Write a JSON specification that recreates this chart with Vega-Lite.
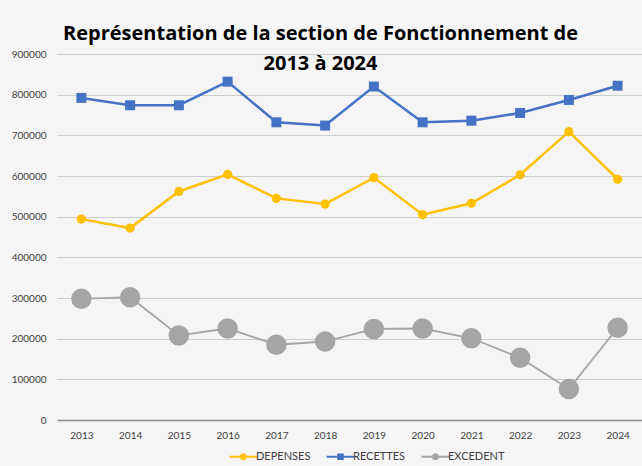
{
  "$schema": "https://vega.github.io/schema/vega-lite/v6.json",
  "width": 585,
  "height": 366,
  "autosize": {"type": "none"},
  "padding": {"left": 57, "top": 54, "right": 0, "bottom": 46},
  "background": "#f5f5f5",
  "config": {"font": "Lato", "view": {"stroke": null}},
  "title": {
    "text": ["Représentation de la section de Fonctionnement de", "2013 à 2024"],
    "font": "Open Sans",
    "fontSize": 20,
    "fontWeight": "bold",
    "color": "#000000",
    "anchor": "middle",
    "offset": -25,
    "dx": -29,
    "lineHeight": 30
  },
  "data": {
    "values": [
      {"year": "2013", "series": "DEPENSES", "value": 494000},
      {"year": "2014", "series": "DEPENSES", "value": 472000},
      {"year": "2015", "series": "DEPENSES", "value": 562000},
      {"year": "2016", "series": "DEPENSES", "value": 604000},
      {"year": "2017", "series": "DEPENSES", "value": 545000},
      {"year": "2018", "series": "DEPENSES", "value": 531000},
      {"year": "2019", "series": "DEPENSES", "value": 596000},
      {"year": "2020", "series": "DEPENSES", "value": 505000},
      {"year": "2021", "series": "DEPENSES", "value": 533000},
      {"year": "2022", "series": "DEPENSES", "value": 603000},
      {"year": "2023", "series": "DEPENSES", "value": 709000},
      {"year": "2024", "series": "DEPENSES", "value": 592000},
      {"year": "2013", "series": "RECETTES", "value": 792000},
      {"year": "2014", "series": "RECETTES", "value": 774000},
      {"year": "2015", "series": "RECETTES", "value": 774000},
      {"year": "2016", "series": "RECETTES", "value": 832000},
      {"year": "2017", "series": "RECETTES", "value": 732000},
      {"year": "2018", "series": "RECETTES", "value": 724000},
      {"year": "2019", "series": "RECETTES", "value": 820000},
      {"year": "2020", "series": "RECETTES", "value": 732000},
      {"year": "2021", "series": "RECETTES", "value": 736000},
      {"year": "2022", "series": "RECETTES", "value": 755000},
      {"year": "2023", "series": "RECETTES", "value": 787000},
      {"year": "2024", "series": "RECETTES", "value": 822000},
      {"year": "2013", "series": "EXCEDENT", "value": 298000},
      {"year": "2014", "series": "EXCEDENT", "value": 302000},
      {"year": "2015", "series": "EXCEDENT", "value": 208000},
      {"year": "2016", "series": "EXCEDENT", "value": 225000},
      {"year": "2017", "series": "EXCEDENT", "value": 185000},
      {"year": "2018", "series": "EXCEDENT", "value": 193000},
      {"year": "2019", "series": "EXCEDENT", "value": 224000},
      {"year": "2020", "series": "EXCEDENT", "value": 225000},
      {"year": "2021", "series": "EXCEDENT", "value": 201000},
      {"year": "2022", "series": "EXCEDENT", "value": 153000},
      {"year": "2023", "series": "EXCEDENT", "value": 76000},
      {"year": "2024", "series": "EXCEDENT", "value": 227000}
    ]
  },
  "encoding": {
    "x": {
      "field": "year",
      "type": "ordinal",
      "scale": {"type": "point", "padding": 0.5},
      "axis": {
        "title": null,
        "labelAngle": 0,
        "ticks": false,
        "grid": false,
        "domainColor": "#8c8c8c",
        "domainWidth": 1.5,
        "labelPadding": 10,
        "labelFontSize": 10,
        "labelColor": "#404040"
      }
    },
    "y": {
      "field": "value",
      "type": "quantitative",
      "scale": {"domain": [0, 900000], "nice": false},
      "axis": {
        "title": null,
        "values": [0, 100000, 200000, 300000, 400000, 500000, 600000, 700000, 800000, 900000],
        "format": "d",
        "domain": false,
        "ticks": false,
        "gridColor": "#cccccc",
        "gridWidth": 1,
        "labelPadding": 11,
        "labelFontSize": 10,
        "labelColor": "#404040"
      }
    },
    "color": {
      "field": "series",
      "type": "nominal",
      "scale": {"domain": ["DEPENSES", "RECETTES", "EXCEDENT"], "range": ["#FFC000", "#4472C4", "#A5A5A5"]},
      "legend": {
        "title": null,
        "orient": "none",
        "legendX": 177,
        "legendY": 393,
        "direction": "horizontal",
        "labelFontSize": 11,
        "labelColor": "#404040",
        "columnPadding": 15,
        "labelOffset": 3,
        "symbolSize": 346,
        "symbolStrokeWidth": 0,
        "encode": {
          "symbols": {
            "update": {
              "fill": {"scale": "color", "field": "value"},
              "strokeWidth": {"value": 0},
              "opacity": {"value": 1},
              "shape": {"signal": "datum.value === 'RECETTES' ? 'M-1.5,-0.12H1.5V0.12H-1.5Z M-0.35,-0.35H0.35V0.35H-0.35Z' : 'M-1.5,-0.12H1.5V0.12H-1.5Z M-0.38,0A0.38,0.38,0,1,1,0.38,0A0.38,0.38,0,1,1,-0.38,0Z'"}
            }
          }
        }
      }
    }
  },
  "layer": [
    {
      "transform": [{"filter": "datum.series !== 'EXCEDENT'"}],
      "mark": {"type": "line", "strokeWidth": 2.5}
    },
    {
      "transform": [{"filter": "datum.series === 'EXCEDENT'"}],
      "mark": {"type": "line", "strokeWidth": 1.8}
    },
    {
      "transform": [{"filter": "datum.series === 'DEPENSES'"}],
      "mark": {"type": "point", "shape": "circle", "filled": true, "opacity": 1, "size": 85}
    },
    {
      "transform": [{"filter": "datum.series === 'RECETTES'"}],
      "mark": {"type": "point", "shape": "square", "filled": true, "opacity": 1, "size": 100}
    },
    {
      "transform": [{"filter": "datum.series === 'EXCEDENT'"}],
      "mark": {"type": "point", "shape": "circle", "filled": true, "opacity": 1, "size": 420}
    }
  ]
}
